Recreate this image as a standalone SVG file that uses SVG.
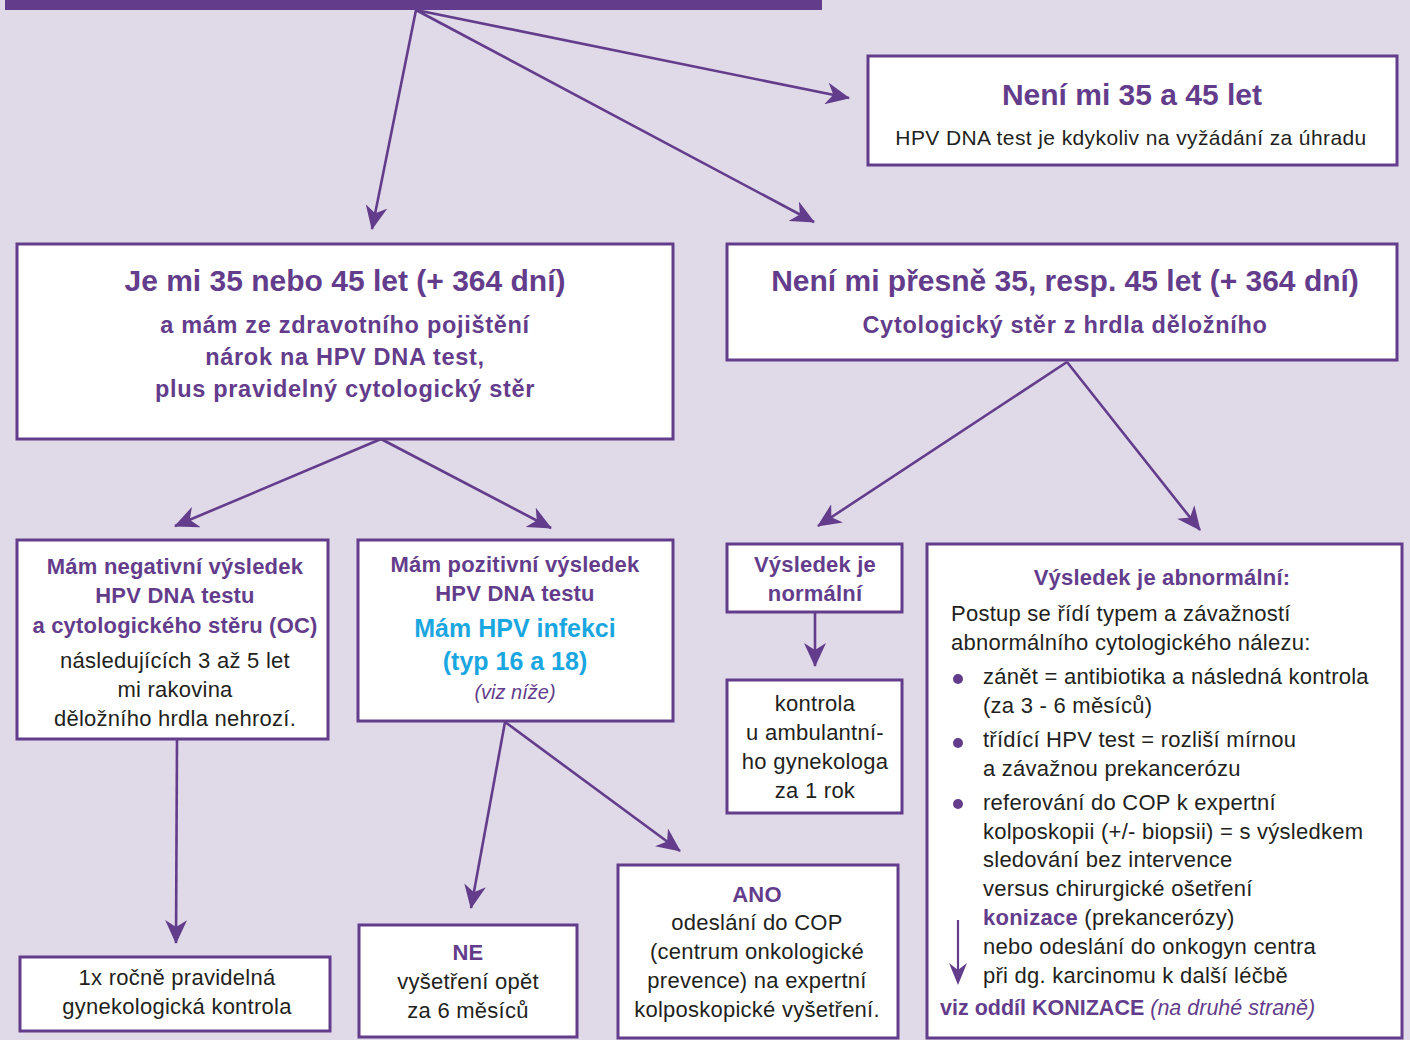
<svg xmlns="http://www.w3.org/2000/svg" width="1410" height="1040" viewBox="0 0 1410 1040">
<defs>
<marker id="ah" viewBox="0 0 24 22" refX="23" refY="11" markerWidth="24" markerHeight="22" markerUnits="userSpaceOnUse" orient="auto">
<path d="M0,0 L24,11 L0,22 L7,11 Z" fill="#633d8b"/>
</marker>
<style>
.box{fill:#fff;stroke:#633d8b;stroke-width:3}
.ln{stroke:#633d8b;stroke-width:2.6;fill:none;marker-end:url(#ah)}
text{font-family:"Liberation Sans","Open Sans",sans-serif}
.t{fill:#633d8b;font-weight:bold;text-anchor:middle}
.h1{font-size:30px}
.h2{font-size:23.5px;letter-spacing:0.7px}
.h3{font-size:22px;letter-spacing:0.2px}
.b{fill:#231f20;text-anchor:middle;font-size:22px;letter-spacing:0.25px}
.l{fill:#231f20;font-size:22px;letter-spacing:0.25px}
.c{fill:#1aa6e0;font-weight:bold;text-anchor:middle;font-size:25px}
</style>
</defs>
<rect width="1410" height="1040" fill="#dfd9e8"/>
<rect x="5" y="0" width="817" height="10" fill="#633d8b"/>
<g id="connectors">
<line class="ln" x1="416" y1="10" x2="372" y2="229"/>
<line class="ln" x1="416" y1="10" x2="814" y2="222"/>
<line class="ln" x1="416" y1="10" x2="849" y2="98"/>
<line class="ln" x1="381" y1="439" x2="175" y2="526"/>
<line class="ln" x1="381" y1="439" x2="551" y2="528"/>
<line class="ln" x1="1067" y1="362" x2="818" y2="526"/>
<line class="ln" x1="1067" y1="362" x2="1200" y2="530"/>
<line class="ln" x1="815" y1="613" x2="815" y2="666"/>
<line class="ln" x1="177" y1="739" x2="176" y2="943"/>
<line class="ln" x1="505" y1="722" x2="471" y2="908"/>
<line class="ln" x1="505" y1="722" x2="680" y2="851"/>
</g>
<g id="n_neni3545">
<rect class="box" x="868" y="56" width="529" height="109"/>
<text class="t h1" x="1132" y="105">Není mi 35 a 45 let</text>
<text x="1131" y="145" font-size="21" letter-spacing="0.4" fill="#231f20" text-anchor="middle">HPV DNA test je kdykoliv na vyžádání za úhradu</text>
</g>
<g id="n_je">
<rect class="box" x="17" y="244" width="656" height="195"/>
<text class="t h1" x="345" y="291">Je mi 35 nebo 45 let (+ 364 dní)</text>
<text class="t h2" x="345" y="333">a mám ze zdravotního pojištění</text>
<text class="t h2" x="345" y="365">nárok na HPV DNA test,</text>
<text class="t h2" x="345" y="397">plus pravidelný cytologický stěr</text>
</g>
<g id="n_neni">
<rect class="box" x="727" y="244" width="670" height="116"/>
<text class="t h1" x="1065" y="291">Není mi přesně 35, resp. 45 let (+ 364 dní)</text>
<text class="t h2" x="1065" y="333">Cytologický stěr z hrdla děložního</text>
</g>
<g id="n_neg">
<rect class="box" x="17" y="540" width="311" height="199"/>
<text class="t h3" x="175" y="574">Mám negativní výsledek</text>
<text class="t h3" x="175" y="603">HPV DNA testu</text>
<text class="t h3" x="175" y="633">a cytologického stěru (OC)</text>
<text class="b" x="175" y="668">následujících 3 až 5 let</text>
<text class="b" x="175" y="697">mi rakovina</text>
<text class="b" x="175" y="726">děložního hrdla nehrozí.</text>
</g>
<g id="n_pos">
<rect class="box" x="358" y="540" width="315" height="181"/>
<text class="t h3" x="515" y="572">Mám pozitivní výsledek</text>
<text class="t h3" x="515" y="601">HPV DNA testu</text>
<text class="c" x="515" y="637">Mám HPV infekci</text>
<text class="c" x="515" y="670">(typ 16 a 18)</text>
<text x="515" y="699" font-size="20" font-style="italic" fill="#633d8b" text-anchor="middle">(viz níže)</text>
</g>
<g id="n_normal">
<rect class="box" x="727" y="544" width="175" height="68"/>
<text class="t h3" x="815" y="572">Výsledek je</text>
<text class="t h3" x="815" y="601">normální</text>
</g>
<g id="n_kontrola">
<rect class="box" x="727" y="680" width="175" height="133"/>
<text class="b" x="815" y="711">kontrola</text>
<text class="b" x="815" y="740">u ambulantní-</text>
<text class="b" x="815" y="769">ho gynekologa</text>
<text class="b" x="815" y="798">za 1 rok</text>
</g>
<g id="n_abn">
<rect class="box" x="927" y="544" width="475" height="494"/>
<text class="t h3" x="1162" y="585">Výsledek je abnormální:</text>
<text class="l" x="951" y="621">Postup se řídí typem a závažností</text>
<text class="l" x="951" y="650">abnormálního cytologického nálezu:</text>
<circle cx="958" cy="679" r="5" fill="#633d8b"/>
<circle cx="958" cy="743" r="5" fill="#633d8b"/>
<circle cx="958" cy="804" r="5" fill="#633d8b"/>
<text class="l" x="983" y="684">zánět = antibiotika a následná kontrola</text>
<text class="l" x="983" y="713">(za 3 - 6 měsíců)</text>
<text class="l" x="983" y="747">třídící HPV test = rozliší mírnou</text>
<text class="l" x="983" y="776">a závažnou prekancerózu</text>
<text class="l" x="983" y="810">referování do COP k expertní</text>
<text class="l" x="983" y="839">kolposkopii (+/- biopsii) = s výsledkem</text>
<text class="l" x="983" y="867">sledování bez intervence</text>
<text class="l" x="983" y="896">versus chirurgické ošetření</text>
<text class="l" x="983" y="925"><tspan fill="#633d8b" font-weight="bold">konizace</tspan> (prekancerózy)</text>
<text class="l" x="983" y="954">nebo odeslání do onkogyn centra</text>
<text class="l" x="983" y="983">při dg. karcinomu k další léčbě</text>
<line x1="958" y1="920" x2="958" y2="972" stroke="#633d8b" stroke-width="2.2"/>
<path d="M949,963 L958,985 L967,963 L958,970 Z" fill="#633d8b"/>
<text x="940" y="1015" font-size="21.5" fill="#633d8b"><tspan font-weight="bold">viz oddíl KONIZACE</tspan> <tspan font-style="italic">(na druhé straně)</tspan></text>
</g>
<g id="n_rocne">
<rect class="box" x="20" y="957" width="310" height="74"/>
<text class="b" x="177" y="985">1x ročně pravidelná</text>
<text class="b" x="177" y="1014">gynekologická kontrola</text>
</g>
<g id="n_ne">
<rect class="box" x="359" y="925" width="218" height="112"/>
<text class="t h3" x="468" y="960">NE</text>
<text class="b" x="468" y="989">vyšetření opět</text>
<text class="b" x="468" y="1018">za 6 měsíců</text>
</g>
<g id="n_ano">
<rect class="box" x="618" y="865" width="280" height="173"/>
<text class="t h3" x="757" y="902">ANO</text>
<text class="b" x="757" y="930">odeslání do COP</text>
<text class="b" x="757" y="959">(centrum onkologické</text>
<text class="b" x="757" y="988">prevence) na expertní</text>
<text class="b" x="757" y="1017">kolposkopické vyšetření.</text>
</g>
</svg>
